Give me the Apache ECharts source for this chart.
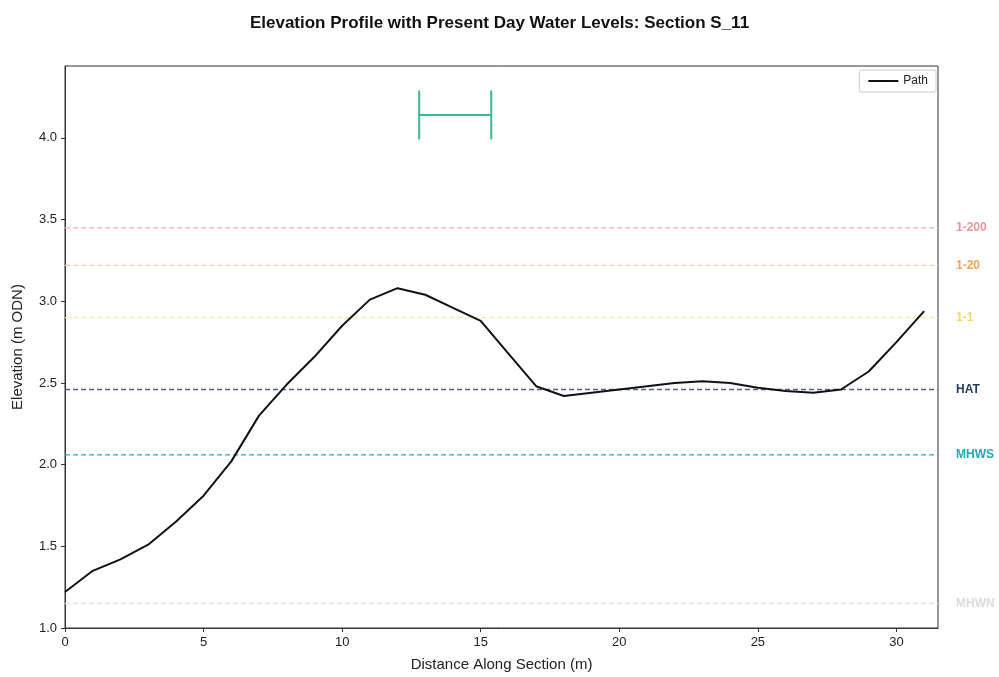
<!DOCTYPE html>
<html>
<head>
<meta charset="utf-8">
<script src="https://cdn.jsdelivr.net/npm/echarts@6/dist/echarts.min.js"></script>
<style>
  html, body { margin: 0; padding: 0; background: #fff; }
  #main { width: 999px; height: 677px; }
</style>
</head>
<body>
<div id="main"></div>
<script>
// section profile
var distance = [0, 1, 2, 3, 4, 5, 6, 7, 8, 9, 10, 11, 12, 13, 14, 15, 16, 17, 18, 19, 20, 21, 22, 23, 24, 25, 26, 27, 28, 29, 30, 31];
var elevation = [1.22, 1.35, 1.42, 1.51, 1.65, 1.81, 2.02, 2.30, 2.49, 2.66, 2.85, 3.01, 3.08, 3.04, 2.96, 2.88, 2.68, 2.48, 2.42, 2.44, 2.46, 2.48, 2.50, 2.51, 2.50, 2.47, 2.45, 2.44, 2.46, 2.57, 2.75, 2.94];

// water levels (m ODN)
var levelNames = ['1-200', '1-20', '1-1', 'HAT', 'MHWS', 'MHWN'];
var levelValues = [3.45, 3.22, 2.90, 2.46, 2.06, 1.15];
var levelLineColors = ['#f7b9c6', '#fbc99a', '#fbe7a0', '#4a6587', '#22b4c4', '#e2e2e2'];
var levelTextColors = ['#ea9798', '#f5a15a', '#f0d86a', '#1f3a5c', '#20a9b3', '#dcdcdc'];

// range bar at the top
var barStart = 12.78, barEnd = 15.38, barLevel = 4.14, barHalf = 0.15;

var xMax = 31.5;
var xTicks = [0, 5, 10, 15, 20, 25, 30];
var yTicks = [1.0, 1.5, 2.0, 2.5, 3.0, 3.5, 4.0];

var font = 'Liberation Sans';
var myChart = echarts.init(document.getElementById('main'));

var pathData = distance.map(function (d, i) { return [d, elevation[i]]; });

var series = [];

// water level lines, full width, label past the right edge
levelValues.forEach(function (v, i) {
    series.push({
        name: levelNames[i], type: 'line', z: 2,
        data: [[0, v], [xMax, v]],
        symbol: 'none', silent: true,
        lineStyle: { color: levelLineColors[i], type: [5, 3], width: 1.3 },
        itemStyle: { color: levelLineColors[i] },
        endLabel: {
            show: true, distance: 18,
            formatter: levelNames[i], color: levelTextColors[i],
            fontWeight: 'bold', fontSize: 12, fontFamily: font
        }
    });
});

series.push({
    name: 'Path', type: 'line', data: pathData,
    symbol: 'none', z: 5,
    lineStyle: { color: '#111', width: 2 },
    itemStyle: { color: '#111' }
});

series.push({
    name: 'range', type: 'custom', z: 4,
    data: [[barStart, barEnd, barLevel, barHalf]],
    renderItem: function (params, api) {
        var a = api.coord([api.value(0), api.value(2)]);
        var b = api.coord([api.value(1), api.value(2)]);
        var top = api.coord([api.value(0), api.value(2) + api.value(3)]);
        var bot = api.coord([api.value(0), api.value(2) - api.value(3)]);
        var st = { stroke: '#3db88a', lineWidth: 2 };
        return {
            type: 'group',
            children: [
                { type: 'line', shape: { x1: a[0], y1: a[1], x2: b[0], y2: b[1] }, style: st },
                { type: 'line', shape: { x1: a[0], y1: top[1], x2: a[0], y2: bot[1] }, style: st },
                { type: 'line', shape: { x1: b[0], y1: top[1], x2: b[0], y2: bot[1] }, style: st }
            ]
        };
    }
});

var option = {
    animation: false,
    title: {
        text: 'Elevation Profile with Present Day Water Levels: Section S_11',
        left: 'center', top: 10,
        textStyle: { fontFamily: font, fontSize: 17, fontWeight: 'bold', color: '#111' }
    },
    legend: {
        data: ['Path'],
        right: 63, top: 70,
        orient: 'vertical',
        borderColor: '#ccc', borderWidth: 1, borderRadius: 2,
        padding: [5, 8],
        itemWidth: 30, itemHeight: 2,
        textStyle: { fontFamily: font, fontSize: 12, color: '#222' }
    },
    grid: {
        left: 65, right: 61, top: 66, bottom: 48,
        show: true, borderColor: '#333', borderWidth: 1
    },
    xAxis: {
        type: 'value', min: 0, max: xMax, interval: 5,
        name: 'Distance Along Section (m)', nameLocation: 'middle', nameGap: 29,
        nameTextStyle: { fontFamily: font, fontSize: 15, color: '#222' },
        axisLine: { show: true, onZero: false, lineStyle: { color: '#333' } },
        axisTick: { show: true, inside: false, length: 4, lineStyle: { color: '#333' } },
        axisLabel: { fontFamily: font, fontSize: 13, color: '#222', showMaxLabel: false,
            formatter: function (v) { return xTicks.indexOf(v) >= 0 ? String(v) : ''; } },
        splitLine: { show: false }
    },
    yAxis: {
        type: 'value', min: 1.0, max: 4.44, interval: 0.5,
        name: 'Elevation (m ODN)', nameLocation: 'middle', nameGap: 40, nameRotate: 90,
        nameTextStyle: { fontFamily: font, fontSize: 15, color: '#222' },
        axisLine: { show: true, onZero: false, lineStyle: { color: '#333' } },
        axisTick: { show: true, inside: false, length: 4, lineStyle: { color: '#333' } },
        axisLabel: { fontFamily: font, fontSize: 13, color: '#222', showMaxLabel: false,
            formatter: function (v) { return yTicks.indexOf(v) >= 0 ? v.toFixed(1) : ''; } },
        splitLine: { show: false }
    },
    series: series
};

myChart.setOption(option);
</script>
</body>
</html>
